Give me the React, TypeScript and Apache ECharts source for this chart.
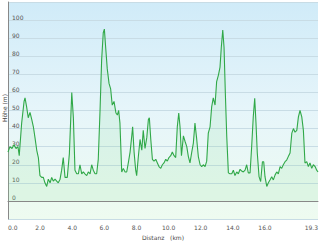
import React, { useEffect, useRef } from "react";
import * as echarts from "echarts";

const distanceKm = [
  0.0, 0.12, 0.25, 0.37, 0.5, 0.62, 0.7, 0.85, 1.0, 1.06, 1.16, 1.26, 1.37, 1.48, 1.58, 1.68, 1.79, 1.89, 1.99,
  2.1, 2.2, 2.3, 2.41, 2.51, 2.62, 2.72, 2.82, 2.93, 3.03, 3.13, 3.24, 3.34, 3.44, 3.55, 3.69, 3.82, 3.97,
  4.07, 4.17, 4.28, 4.38, 4.48, 4.59, 4.69, 4.79, 4.9, 5.0, 5.11, 5.21, 5.31, 5.42, 5.52, 5.62, 5.73, 5.83,
  5.93, 6.0, 6.08, 6.18, 6.29, 6.39, 6.49, 6.6, 6.72, 6.81, 6.89, 6.97, 7.08, 7.18, 7.29, 7.39, 7.49, 7.6,
  7.7, 7.76, 7.85, 7.95, 8.01, 8.11, 8.22, 8.33, 8.42, 8.53, 8.64, 8.74, 8.8, 8.89, 8.99, 9.09, 9.2, 9.3,
  9.4, 9.51, 9.61, 9.71, 9.82, 9.92, 10.02, 10.13, 10.23, 10.34, 10.44, 10.54, 10.63, 10.71, 10.8, 10.92,
  11.02, 11.13, 11.23, 11.33, 11.44, 11.54, 11.64, 11.75, 11.85, 11.96, 12.06, 12.16, 12.27, 12.37, 12.47,
  12.58, 12.68, 12.78, 12.89, 12.99, 13.1, 13.2, 13.28, 13.37, 13.45, 13.53, 13.62, 13.72, 13.82, 13.93,
  14.03, 14.13, 14.24, 14.34, 14.45, 14.55, 14.65, 14.76, 14.86, 14.96, 15.07, 15.17, 15.27, 15.36, 15.44,
  15.52, 15.63, 15.73, 15.84, 15.92, 16.0, 16.11, 16.21, 16.31, 16.42, 16.52, 16.63, 16.73, 16.83, 16.94,
  17.04, 17.14, 17.25, 17.35, 17.45, 17.56, 17.67, 17.77, 17.87, 17.98, 18.08, 18.18, 18.29, 18.39, 18.49,
  18.6, 18.7, 18.8, 18.91, 19.01, 19.12, 19.22, 19.3,
];

const elevationM = [
  27, 30, 29, 31, 29, 30, 25, 43, 55, 57, 52, 46, 49, 45, 41, 35, 28, 24, 14,
  13, 13, 10, 8, 12, 10, 13, 11, 12, 11, 10, 12, 17, 24, 13, 13, 26, 60,
  46, 17, 15, 15, 20, 15, 16, 15, 14, 16, 15, 20, 17, 15, 15, 23, 50, 78,
  93, 95, 85, 73, 65, 62, 53, 55, 48.6, 47.5, 50, 43, 16, 18, 16, 16, 21, 27,
  35.5, 41, 27, 17, 14, 24, 34, 28, 39, 29, 35, 45, 46, 34, 23, 22, 23, 21,
  19, 18, 20, 21, 23, 22, 24, 25, 27, 25, 24, 41, 48.6, 41, 25, 36,
  33, 30, 24.5, 21, 27, 32, 43, 34, 24.5, 20, 19, 20, 19, 22, 37.5,
  41, 52, 57, 53, 66, 69.6, 74, 85, 94.5, 85, 60, 35.5, 15.5, 15, 15,
  17, 14, 16, 15, 17.5, 16.5, 16, 17, 20, 15.5, 15.5, 30, 46.5, 56.7, 43,
  26.5, 13.4, 10.7, 21.7, 21.7, 13.4, 8, 10, 11.6, 13.4, 11.6, 14.4, 16, 15, 19,
  18, 20, 21.7, 22.6, 24.5, 26.5, 37.5, 40, 38, 39, 46.5, 50, 46.5, 39, 21,
  21.7, 19, 21, 18, 20, 19, 17, 16,
];

const yTicks = { min: -10, max: 110, interval: 10 };
const xTicks = { min: 0, max: 19.3, interval: 2 };
const yAxisTitle = "Höhe (m)";
const xAxisTitle = "Distanz   (km)";

export default function App() {
  const ref = useRef<HTMLDivElement>(null);
  useEffect(() => {
    document.body.style.margin = "0";
    if (!ref.current) return;
    const chart = echarts.init(ref.current, null, { renderer: "svg" });
    const data = distanceKm.map((d, i) => [d, elevationM[i]]);
    chart.setOption({
      animation: false,
      textStyle: { fontFamily: "DejaVu Sans" },
      grid: {
        left: 8,
        right: 2,
        top: 2,
        bottom: 23,
        containLabel: false,
        outerBoundsMode: "none",
        show: true,
        borderWidth: 0,
        backgroundColor: new echarts.graphic.LinearGradient(0, 0, 0, 1, [
          { offset: 0, color: "#d0ebf8" },
          { offset: 0.5, color: "#e6f5fa" },
          { offset: 1, color: "#eefbf0" },
        ]),
      },
      graphic: [
        {
          type: "text",
          x: 4.5,
          y: 108,
          rotation: Math.PI / 2,
          style: {
            text: yAxisTitle,
            fontSize: 6,
            fontFamily: "DejaVu Sans",
            fill: "#444",
            align: "center",
            verticalAlign: "middle",
          },
        },
      ],
      xAxis: {
        type: "value",
        min: xTicks.min,
        max: xTicks.max,
        interval: xTicks.interval,
        name: xAxisTitle,
        nameLocation: "middle",
        nameGap: 13,
        nameTextStyle: { fontSize: 6, color: "#444" },
        axisLine: { show: true, lineStyle: { color: "#888", width: 1 } },
        axisTick: { show: false },
        splitLine: { show: false },
        axisLabel: {
          fontSize: 6,
          color: "#555",
          margin: 5,
          showMinLabel: true,
          showMaxLabel: true,
          alignMinLabel: "left",
          alignMaxLabel: "right",
          formatter: (v: number) => (v === 18 ? "" : v.toFixed(1)),
        },
      },
      yAxis: {
        type: "value",
        min: yTicks.min,
        max: yTicks.max,
        interval: yTicks.interval,
        axisLine: { show: true, lineStyle: { color: "#888", width: 1 } },
        axisTick: { show: false },
        splitLine: { show: true, lineStyle: { color: "#c8dce5", width: 1 } },
        axisLabel: {
          inside: true,
          fontSize: 6,
          color: "#555",
          margin: 4,
          verticalAlign: "bottom",
          formatter: (v: number) => (v < 0 || v > 100 ? "" : String(v)),
        },
      },
      series: [
        {
          type: "line",
          data,
          symbol: "none",
          lineStyle: { color: "#30a848", width: 1.1 },
          areaStyle: { color: "rgba(140, 220, 150, 0.22)" },
        },
      ],
    });
    return () => chart.dispose();
  }, []);
  return <div ref={ref} style={{ width: 320, height: 242 }} />;
}
